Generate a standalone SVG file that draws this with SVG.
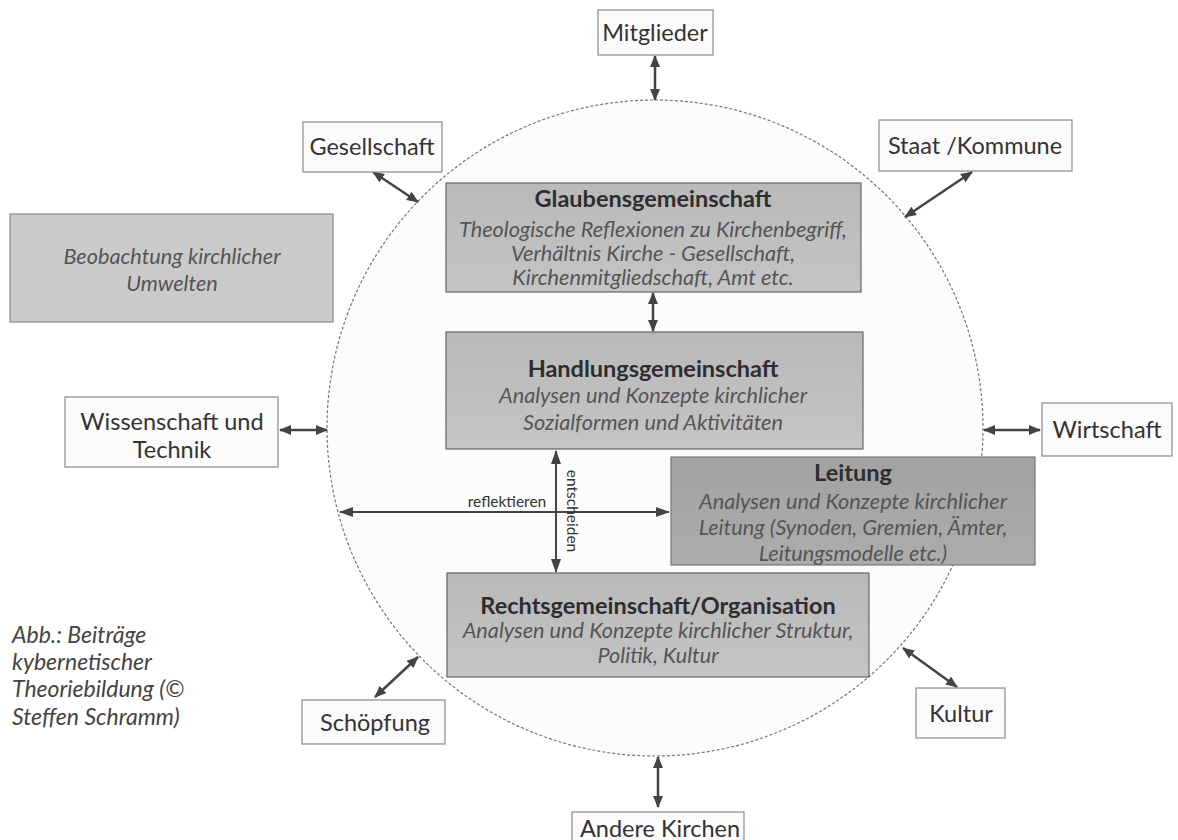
<svg xmlns="http://www.w3.org/2000/svg" width="1178" height="840" viewBox="0 0 1178 840">
<style>
.lbl{font-family:Lato,"Liberation Sans",sans-serif;font-size:23.5px;fill:#333;text-anchor:middle}
.ttl{font-family:Lato,"Liberation Sans",sans-serif;font-size:23.5px;font-weight:bold;fill:#2e2e2e;text-anchor:middle}
.it{font-family:Lato,"Liberation Sans",sans-serif;font-size:21.7px;font-style:italic;fill:#555;text-anchor:middle}
.cap{font-family:Lato,"Liberation Sans",sans-serif;font-size:23px;font-style:italic;fill:#444}
.sm{font-family:Lato,"Liberation Sans",sans-serif;font-size:15.5px;fill:#333;text-anchor:middle}
.obox{fill:#fbfbfb;stroke:#8a8a8a;stroke-width:1.2}
.gbox{fill:url(#g1);stroke:#666;stroke-width:1.2}
.lbox{fill:url(#g2);stroke:#777;stroke-width:1.2}
.arr{stroke:#444;stroke-width:2.5;fill:none;marker-start:url(#ah);marker-end:url(#ah)}
.arr1{stroke:#444;stroke-width:2;fill:none;marker-start:url(#ah2);marker-end:url(#ah2)}
</style>
<defs>
<marker id="ah" viewBox="0 0 12 10" refX="11" refY="5" markerWidth="12" markerHeight="10" markerUnits="userSpaceOnUse" orient="auto-start-reverse"><path d="M0,0 L12,5 L0,10 z" fill="#444"/></marker>
<marker id="ah2" viewBox="0 0 14 10" refX="13" refY="5" markerWidth="14" markerHeight="10" markerUnits="userSpaceOnUse" orient="auto-start-reverse"><path d="M0,0 L14,5 L0,10 z" fill="#444"/></marker>
<linearGradient id="g1" x1="0" y1="0" x2="0" y2="1"><stop offset="0" stop-color="#b9b9b9"/><stop offset="1" stop-color="#c4c4c4"/></linearGradient>
<linearGradient id="g2" x1="0" y1="0" x2="0" y2="1"><stop offset="0" stop-color="#a2a2a2"/><stop offset="1" stop-color="#acacac"/></linearGradient>
</defs>
<rect width="1178" height="840" fill="#ffffff"/>
<g id="circle"><circle cx="655" cy="428" r="328" fill="#fcfcfc" stroke="#777" stroke-width="1.2" stroke-dasharray="3 2"/></g>

<g id="connectors">
<line class="arr" x1="655" y1="56" x2="655" y2="100"/>
<line class="arr" x1="373" y1="172" x2="418" y2="202"/>
<line class="arr" x1="972" y1="172" x2="905" y2="217"/>
<line class="arr" x1="280" y1="430" x2="327" y2="430"/>
<line class="arr" x1="984" y1="430" x2="1040" y2="430"/>
<line class="arr" x1="375" y1="697" x2="418" y2="657"/>
<line class="arr" x1="957" y1="687" x2="903" y2="648"/>
<line class="arr" x1="658" y1="757" x2="658" y2="807"/>
<line class="arr" x1="653" y1="293" x2="653" y2="331"/>
<line class="arr1" x1="340" y1="512" x2="669" y2="512"/>
<line class="arr1" x1="556" y1="451" x2="556" y2="572"/>
<text class="sm" x="507" y="507">reflektieren</text>
<text class="sm" transform="translate(567,511) rotate(90)">entscheiden</text>
</g>

<g id="mitglieder"><rect class="obox" x="598" y="10" width="115" height="45"/><text class="lbl" x="655" y="41">Mitglieder</text></g>
<g id="gesellschaft"><rect class="obox" x="303" y="122" width="139" height="50"/><text class="lbl" x="372" y="155">Gesellschaft</text></g>
<g id="staat"><rect class="obox" x="879" y="120" width="193" height="51"/><text class="lbl" x="975" y="154">Staat /Kommune</text></g>
<g id="beobachtung"><rect x="10" y="214" width="323" height="108" fill="#cacaca" stroke="#888" stroke-width="1.2"/><text class="it" x="172" y="264">Beobachtung kirchlicher</text><text class="it" x="172" y="291">Umwelten</text></g>
<g id="wissenschaft"><rect class="obox" x="65" y="397" width="213" height="70"/><text class="lbl" x="172" y="430">Wissenschaft und</text><text class="lbl" x="172" y="458">Technik</text></g>
<g id="wirtschaft"><rect class="obox" x="1042" y="403" width="130" height="53"/><text class="lbl" x="1107" y="438">Wirtschaft</text></g>
<g id="schoepfung"><rect class="obox" x="302" y="700" width="143" height="44"/><text class="lbl" x="375" y="731">Schöpfung</text></g>
<g id="kultur"><rect class="obox" x="916" y="688" width="89" height="50"/><text class="lbl" x="961" y="722">Kultur</text></g>
<g id="andere"><rect class="obox" x="572" y="812" width="172" height="40"/><text class="lbl" x="660" y="837">Andere Kirchen</text></g>

<g id="glauben"><rect class="gbox" x="446" y="183" width="415" height="109"/>
<text class="ttl" x="653" y="207">Glaubensgemeinschaft</text>
<text class="it" x="653" y="237">Theologische Reflexionen zu Kirchenbegriff,</text>
<text class="it" x="653" y="261">Verhältnis Kirche - Gesellschaft,</text>
<text class="it" x="653" y="285">Kirchenmitgliedschaft, Amt etc.</text></g>

<g id="handlung"><rect class="gbox" x="446" y="332" width="417" height="117"/>
<text class="ttl" x="653" y="377">Handlungsgemeinschaft</text>
<text class="it" x="653" y="403">Analysen und Konzepte kirchlicher</text>
<text class="it" x="653" y="430">Sozialformen und Aktivitäten</text></g>

<g id="leitung"><rect class="lbox" x="671" y="457" width="364" height="108"/>
<text class="ttl" x="853" y="481">Leitung</text>
<text class="it" x="853" y="509">Analysen und Konzepte kirchlicher</text>
<text class="it" x="853" y="535">Leitung (Synoden, Gremien, Ämter,</text>
<text class="it" x="853" y="561">Leitungsmodelle etc.)</text></g>

<g id="recht"><rect class="gbox" x="447" y="573" width="422" height="104"/>
<text class="ttl" x="658" y="614">Rechtsgemeinschaft/Organisation</text>
<text class="it" x="658" y="638">Analysen und Konzepte kirchlicher Struktur,</text>
<text class="it" x="658" y="663">Politik, Kultur</text></g>

<g id="caption">
<text class="cap" x="12" y="643">Abb.: Beiträge</text>
<text class="cap" x="12" y="670">kybernetischer</text>
<text class="cap" x="12" y="697">Theoriebildung (©</text>
<text class="cap" x="12" y="725">Steffen Schramm)</text>
</g>
</svg>
